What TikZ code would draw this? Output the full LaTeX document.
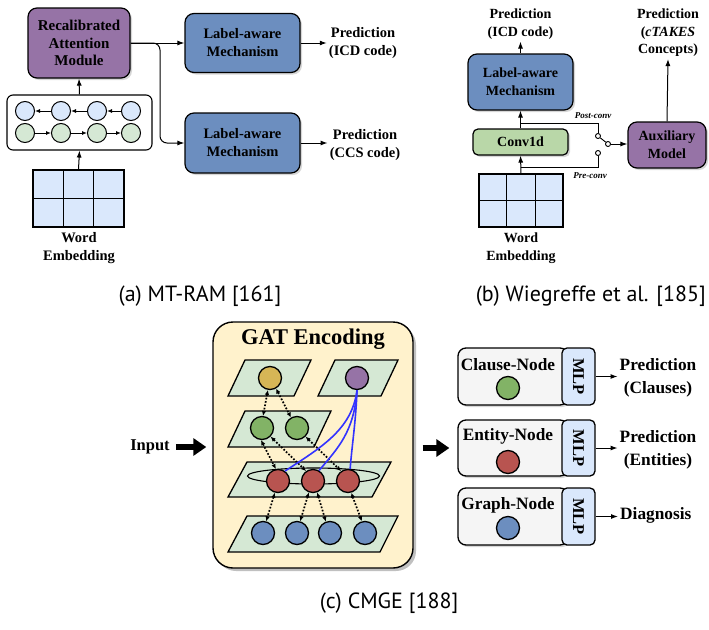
\documentclass[tikz,border=0pt]{standalone}
\usepackage{fontspec}
\setmainfont{Liberation Serif}
\newfontfamily\capfont{PT Sans}
\usetikzlibrary{arrows.meta,shadows,calc}

\definecolor{purp}{HTML}{9673A6}
\definecolor{bluebox}{HTML}{6C8EBF}
\definecolor{lblue}{HTML}{DAE8FC}
\definecolor{lgreen}{HTML}{D5E8D4}
\definecolor{convg}{HTML}{B9D7A8}
\definecolor{ybg}{HTML}{FFF2CC}
\definecolor{yelc}{HTML}{D6B656}
\definecolor{grnc}{HTML}{82B366}
\definecolor{redc}{HTML}{B85450}
\definecolor{gbox}{HTML}{F5F5F5}
\definecolor{bline}{HTML}{3333FF}

\tikzset{
  shad/.style={drop shadow={shadow xshift=2pt, shadow yshift=-2pt, fill=black!40, opacity=0.4}},
  rbox/.style={draw, line width=1.2pt, rounded corners=9pt, align=center,
    font=\fontsize{14.5}{18}\selectfont\bfseries, inner sep=0pt, shad},
  txt/.style={align=center, font=\fontsize{14.5}{18}\selectfont\bfseries, inner sep=2pt},
  ctxt/.style={align=center, font=\fontsize{17.3}{23}\selectfont\bfseries, inner sep=2pt},
  captxt/.style={font=\capfont\fontsize{22}{26}\selectfont, inner sep=0pt},
  arr/.style={line width=1pt, -{Latex[length=7pt,width=5pt]}},
  sarr/.style={line width=0.9pt, -{Latex[length=5pt,width=4pt]}},
  cir/.style={circle, draw, line width=1pt, minimum size=19pt, inner sep=0pt},
  gcir/.style={circle, draw, line width=1.3pt, minimum size=23pt, inner sep=0pt},
  plane/.style={fill=lgreen, draw, line width=1.3pt},
  dotarr/.style={line width=1.7pt, dash pattern=on 1.7pt off 1.7pt,
    {Latex[length=5pt,width=4.5pt]}-{Latex[length=5pt,width=4.5pt]}},
  bcurve/.style={draw=bline, line width=1.6pt},
  fat/.style={line width=6pt, -{Triangle[length=13pt,width=17pt]}},
  nbox/.style={draw, line width=1.3pt, rounded corners=8pt, fill=gbox, shad},
  mlpbox/.style={draw, line width=1.3pt, rounded corners=5pt, fill=lblue,
    minimum width=33pt, minimum height=57pt, inner sep=0pt},
  swc/.style={circle, draw, line width=0.9pt, fill=white, minimum size=5pt, inner sep=0pt}
}

\begin{document}
\begin{tikzpicture}[x=1pt,y=-1pt]
\useasboundingbox (0,0) rectangle (709,629);

% ================= Panel (a) =================
\node[rbox, fill=purp, minimum width=102pt, minimum height=70pt,
  font=\fontsize{15}{17.5}\selectfont\bfseries] (ram) at (79,43) {Recalibrated\\Attention\\Module};
\node[draw, line width=1.1pt, rounded corners=6pt, minimum width=145pt, minimum height=55pt, inner sep=0pt] (rnn) at (79.5,122.5) {};
\node[cir, fill=lblue] (f1) at (25,111) {};
\node[cir, fill=lblue] (f2) at (61,111) {};
\node[cir, fill=lblue] (f3) at (97,111) {};
\node[cir, fill=lblue] (f4) at (131,111) {};
\node[cir, fill=lgreen] (g1) at (25,133) {};
\node[cir, fill=lgreen] (g2) at (61,133) {};
\node[cir, fill=lgreen] (g3) at (97,133) {};
\node[cir, fill=lgreen] (g4) at (131,133) {};
\draw[sarr] (f2) -- (f1);
\draw[sarr] (f3) -- (f2);
\draw[sarr] (f4) -- (f3);
\draw[sarr] (g1) -- (g2);
\draw[sarr] (g2) -- (g3);
\draw[sarr] (g3) -- (g4);

\node[draw, line width=1.2pt, fill=lblue, minimum width=91pt, minimum height=57pt, inner sep=0pt] (emb) at (78.5,198.5) {};
\draw[line width=1.2pt] ($(emb.north west)!1/3!(emb.north east)$) -- ($(emb.south west)!1/3!(emb.south east)$);
\draw[line width=1.2pt] ($(emb.north west)!2/3!(emb.north east)$) -- ($(emb.south west)!2/3!(emb.south east)$);
\draw[line width=1.2pt] (emb.west) -- (emb.east);
\node[txt] (wea) at (79,248) {Word\\Embedding};

\draw[arr] (emb.north) -- (rnn.south);
\draw[arr] (rnn.north) -- (ram.south);

\node[rbox, fill=bluebox, minimum width=115pt, minimum height=59pt] (lab1) at (242.5,43) {Label-aware\\Mechanism};
\node[rbox, fill=bluebox, minimum width=115pt, minimum height=60pt] (lab2) at (242.5,143) {Label-aware\\Mechanism};
\node[txt] (p1) at (363,43) {Prediction\\(ICD code)};
\node[txt] (p2) at (365,145) {Prediction\\(CCS code)};

\coordinate (br) at (160,43);
\draw[arr] (ram.east) -- (lab1.west);
\draw[arr, rounded corners=7pt] (ram.east) -- (br) -- (br |- lab2.west) -- (lab2.west);
\draw[arr] (lab1.east) -- (p1.west |- lab1.east);
\draw[arr] (lab2.east) -- (p2.west |- lab2.east);

\node[captxt] (capa) at (200,296) {(a) MT-RAM [161]};

% ================= Panel (b) =================
\node[txt, font=\fontsize{14}{18}\selectfont\bfseries] (pb1) at (520.5,24) {Prediction\\(ICD code)};
\node[rbox, fill=bluebox, minimum width=105pt, minimum height=56pt, font=\fontsize{14}{18}\selectfont\bfseries] (lab3) at (520.5,82) {Label-aware\\Mechanism};
\node[rbox, fill=convg, minimum width=95pt, minimum height=26pt, rounded corners=5pt, font=\fontsize{14}{18}\selectfont\bfseries] (conv) at (520.5,142) {Conv1d};
\node[draw, line width=1.2pt, fill=lblue, minimum width=84pt, minimum height=53pt, inner sep=0pt] (emb2) at (521,200.5) {};
\draw[line width=1.2pt] ($(emb2.north west)!1/3!(emb2.north east)$) -- ($(emb2.south west)!1/3!(emb2.south east)$);
\draw[line width=1.2pt] ($(emb2.north west)!2/3!(emb2.north east)$) -- ($(emb2.south west)!2/3!(emb2.south east)$);
\draw[line width=1.2pt] (emb2.west) -- (emb2.east);
\node[txt, font=\fontsize{14}{18}\selectfont\bfseries] (web) at (521,248) {Word\\Embedding};

\draw[arr] (emb2.north) -- (conv.south);
\draw[arr] (conv.north) -- (lab3.south);
\draw[arr] (lab3.north) -- (pb1.south);

\coordinate (post) at (520.5,123);
\coordinate (pre) at (520.5,167);
\node[swc] (sw1) at (598,136) {};
\node[swc] (sw2) at (598,153) {};
\node[swc] (swp) at (608,144) {};
\draw[line width=0.9pt] (post) -- (post -| sw1) -- (sw1.north);
\draw[line width=0.9pt] (pre) -- (pre -| sw2) -- (sw2.south);
\draw[line width=0.9pt] (sw1) -- (swp);
\node[font=\fontsize{9}{10}\selectfont\bfseries\itshape, inner sep=0pt] (postl) at (593,116) {Post-conv};
\node[font=\fontsize{9}{10}\selectfont\bfseries\itshape, inner sep=0pt] (prel) at (590,176) {Pre-conv};

\node[rbox, fill=purp, minimum width=78pt, minimum height=46pt, font=\fontsize{14}{18}\selectfont\bfseries] (aux) at (667,145) {Auxiliary\\Model};
\draw[arr] (swp.east) -- (swp.east -| aux.west);
\node[txt, font=\fontsize{14}{17.5}\selectfont\bfseries] (pb2) at (668,33) {Prediction\\(\textit{cTAKES}\\Concepts)};
\draw[arr] (aux.north) -- (pb2.south);

\node[captxt, anchor=east] (capb) at (706,296) {(b) Wiegreffe et al. [185]};

% ================= Panel (c) =================
\node[draw, line width=1.4pt, rounded corners=20pt, fill=ybg, minimum width=200pt, minimum height=246pt,
  drop shadow={shadow xshift=3pt, shadow yshift=-3pt, fill=black!45, opacity=0.55}] (gat) at (313,445) {};
\node[font=\fontsize{22.5}{26}\selectfont\bfseries, inner sep=0pt] (gtitle) at (313,339) {GAT Encoding};

\filldraw[plane] (245,360) -- (311,360) -- (294,396) -- (228,396) -- cycle;
\filldraw[plane] (335,360) -- (398,360) -- (381,396) -- (318,396) -- cycle;
\filldraw[plane] (245,411) -- (331,411) -- (314,447) -- (228,447) -- cycle;
\filldraw[plane] (247,462) -- (391,462) -- (372,497) -- (228,497) -- cycle;
\filldraw[plane] (247,516) -- (398,516) -- (380,552) -- (228,552) -- cycle;
\draw[line width=1.1pt] (313.5,476) ellipse [x radius=66pt, y radius=8pt];

\node[gcir, fill=yelc] (ny) at (270,378) {};
\node[gcir, fill=purp] (np) at (357,378) {};
\node[gcir, fill=grnc] (ng1) at (262,428) {};
\node[gcir, fill=grnc] (ng2) at (297,428) {};
\node[gcir, fill=redc] (nr1) at (278,481) {};
\node[gcir, fill=redc] (nr2) at (313,481) {};
\node[gcir, fill=redc] (nr3) at (348,481) {};
\node[gcir, fill=bluebox] (nb1) at (263,533) {};
\node[gcir, fill=bluebox] (nb2) at (297,533) {};
\node[gcir, fill=bluebox] (nb3) at (330,533) {};
\node[gcir, fill=bluebox] (nb4) at (365,533) {};

\draw[dotarr] (ny.260) -- (ng1.85);
\draw[dotarr] (ny.300) -- (ng2.120);
\draw[dotarr] (ng1.265) -- (nr1.100);
\draw[dotarr] (ng1.315) -- (nr2.125);
\draw[dotarr] (ng2.315) -- (nr3.125);
\draw[dotarr] (nr1.255) -- (nb1.75);
\draw[dotarr] (nr2.250) -- (nb2.75);
\draw[dotarr] (nr2.290) -- (nb3.110);
\draw[dotarr] (nr3.285) -- (nb4.105);

\draw[bcurve] (np.south) .. controls (352,430) and (320,448) .. (nr1.55);
\draw[bcurve] (np.south) .. controls (354,432) and (338,448) .. (nr2.60);
\draw[bcurve] (np.south) .. controls (356,420) and (352,445) .. (nr3.80);

\node[ctxt, font=\fontsize{16.5}{20}\selectfont\bfseries] (inp) at (150,447) {Input};
\draw[fat, shorten <=4pt, shorten >=6pt] (inp.east) -- (inp.east -| gat.west);

% right boxes
\node[nbox, minimum width=110pt, minimum height=57pt] (cb) at (513,376.5) {};
\node[nbox, minimum width=110pt, minimum height=56pt] (eb) at (513,448) {};
\node[nbox, minimum width=110pt, minimum height=57pt] (gb) at (513,516.5) {};
\node[mlpbox, minimum height=57pt] (m1) at (578.5,376.5) {};
\node[mlpbox, minimum height=56pt] (m2) at (578.5,448) {};
\node[mlpbox, minimum height=57pt] (m3) at (578.5,516.5) {};
\node[rotate=-90, font=\fontsize{16.5}{18}\selectfont\bfseries, inner sep=0pt] (ml1) at (m1) {MLP};
\node[rotate=-90, font=\fontsize{16.5}{18}\selectfont\bfseries, inner sep=0pt] (ml2) at (m2) {MLP};
\node[rotate=-90, font=\fontsize{16.5}{18}\selectfont\bfseries, inner sep=0pt] (ml3) at (m3) {MLP};

\node[ctxt, inner sep=0pt] (ct) at (508,365) {Clause-Node};
\node[ctxt, inner sep=0pt] (et) at (508,436) {Entity-Node};
\node[ctxt, inner sep=0pt] (gt) at (508,505) {Graph-Node};
\node[gcir, fill=grnc] (cc) at (508,388) {};
\node[gcir, fill=redc] (ec) at (508,462) {};
\node[gcir, fill=bluebox] (gc) at (508,528) {};

\draw[fat, shorten <=9pt, shorten >=8pt] (gat.east |- eb.west) -- (eb.west);

\node[ctxt] (pc1) at (658,378) {Prediction\\(Clauses)};
\node[ctxt] (pc2) at (658,450) {Prediction\\(Entities)};
\node[ctxt, anchor=west] (dg) at (618,515) {Diagnosis};
\draw[arr] (m1.east) -- (m1.east -| pc1.west);
\draw[arr] (m2.east) -- (m2.east -| pc2.west);
\draw[arr] (m3.east) -- (m3.east -| dg.west);

\node[captxt] (capc) at (389,603) {(c) CMGE [188]};
\end{tikzpicture}
\end{document}
